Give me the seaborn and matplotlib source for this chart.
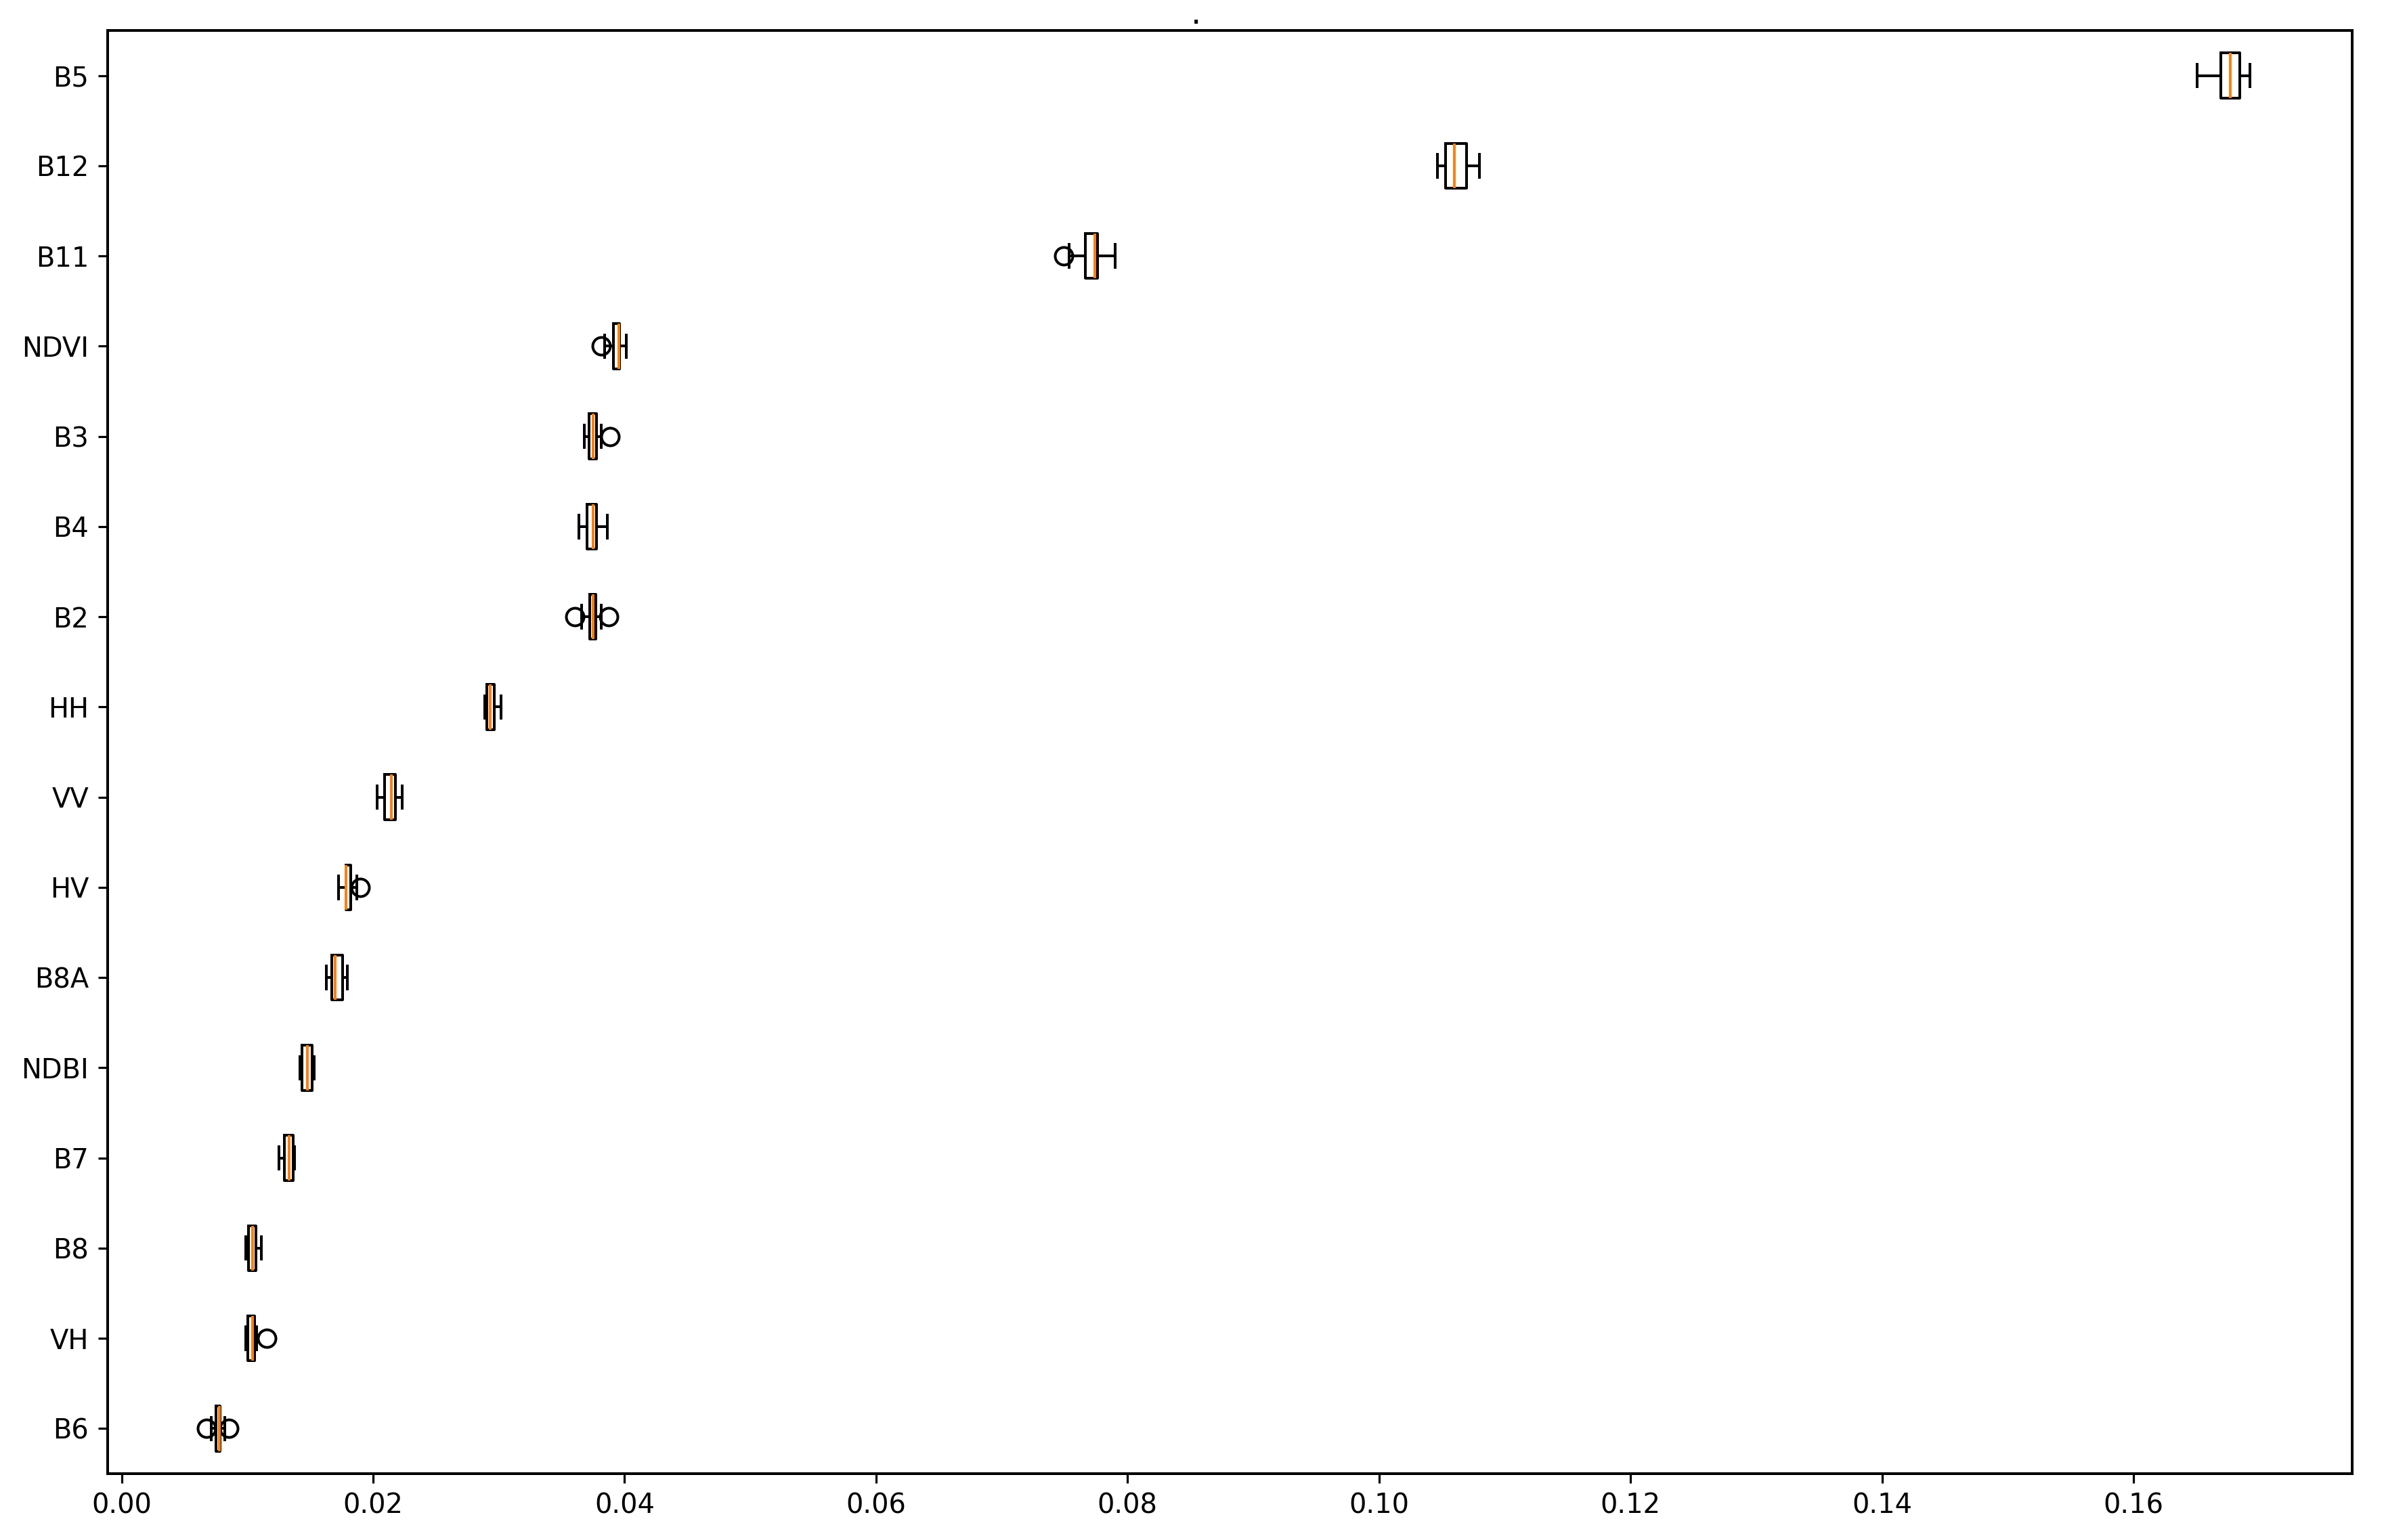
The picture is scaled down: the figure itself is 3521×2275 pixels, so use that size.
import matplotlib
matplotlib.use("Agg")

import pandas as pd
import matplotlib.pyplot as plt
import seaborn as sns

# orden de las variables (de mayor a menor importancia)
features = ["B5", "B12", "B11", "NDVI", "B3", "B4", "B2", "HH",
            "VV", "HV", "B8A", "NDBI", "B7", "B8", "VH", "B6"]

# importancia por permutacion, 10 repeticiones por variable
imp_B5 = [0.16506, 0.16610, 0.16690, 0.16710, 0.16766, 0.16774, 0.16830, 0.16850, 0.16880, 0.16926]
imp_B12 = [0.10466, 0.10500, 0.10525, 0.10545, 0.10595, 0.10605, 0.10682, 0.10702, 0.10740, 0.10800]
imp_B11 = [0.07494, 0.07537, 0.07661, 0.07681, 0.07738, 0.07746, 0.07748, 0.07768, 0.07820, 0.07900]
imp_NDVI = [0.03812, 0.03840, 0.03908, 0.03916, 0.03950, 0.03954, 0.03954, 0.03962, 0.03990, 0.04016]
imp_B3 = [0.03682, 0.03700, 0.03718, 0.03726, 0.03750, 0.03754, 0.03773, 0.03781, 0.03817, 0.03882]
imp_B4 = [0.03639, 0.03680, 0.03702, 0.03710, 0.03750, 0.03754, 0.03773, 0.03781, 0.03810, 0.03865]
imp_B2 = [0.03602, 0.03661, 0.03723, 0.03731, 0.03750, 0.03754, 0.03768, 0.03776, 0.03812, 0.03876]
imp_HH = [0.02886, 0.02894, 0.02900, 0.02908, 0.02932, 0.02936, 0.02960, 0.02968, 0.02990, 0.03015]
imp_VV = [0.02030, 0.02060, 0.02087, 0.02095, 0.02141, 0.02145, 0.02169, 0.02177, 0.02200, 0.02234]
imp_HV = [0.01723, 0.01750, 0.01781, 0.01785, 0.01786, 0.01788, 0.01816, 0.01824, 0.01870, 0.01900]
imp_B8A = [0.01631, 0.01650, 0.01672, 0.01680, 0.01699, 0.01703, 0.01749, 0.01757, 0.01775, 0.01793]
imp_NDBI = [0.01416, 0.01424, 0.01430, 0.01438, 0.01473, 0.01477, 0.01507, 0.01515, 0.01520, 0.01529]
imp_B7 = [0.01254, 0.01270, 0.01290, 0.01298, 0.01328, 0.01332, 0.01356, 0.01364, 0.01370, 0.01378]
imp_B8 = [0.00985, 0.00995, 0.01005, 0.01013, 0.01042, 0.01046, 0.01065, 0.01073, 0.01090, 0.01109]
imp_VH = [0.00985, 0.00992, 0.01000, 0.01008, 0.01042, 0.01046, 0.01052, 0.01060, 0.01075, 0.01155]
imp_B6 = [0.00678, 0.00712, 0.00751, 0.00759, 0.00773, 0.00777, 0.00777, 0.00785, 0.00820, 0.00855]

xticks = [0.00, 0.02, 0.04, 0.06, 0.08, 0.10, 0.12, 0.14, 0.16]

importancias = {
    "B5": imp_B5, "B12": imp_B12, "B11": imp_B11, "NDVI": imp_NDVI,
    "B3": imp_B3, "B4": imp_B4, "B2": imp_B2, "HH": imp_HH,
    "VV": imp_VV, "HV": imp_HV, "B8A": imp_B8A, "NDBI": imp_NDBI,
    "B7": imp_B7, "B8": imp_B8, "VH": imp_VH, "B6": imp_B6,
}

# formato largo para seaborn
filas = []
for nombre in features:
    for v in importancias[nombre]:
        filas.append({"feature": nombre, "importance": v})
df = pd.DataFrame(filas)

fig = plt.figure(figsize=(3521 / 288, 2275 / 288), dpi=288)
ax = fig.add_axes([0.0452, 0.0431, 0.9415, 0.9371])

sns.boxplot(
    data=df, x="importance", y="feature", order=features, orient="h",
    width=0.5, fill=False, color="black", linecolor="black", linewidth=1.0,
    whis=1.5, fliersize=6.5, ax=ax,
    medianprops=dict(color="#ff7f0e", linewidth=1.0),
    flierprops=dict(marker="o", markerfacecolor="none",
                    markeredgecolor="black", markeredgewidth=1.0),
)

ax.set_xlim(-0.0011, 0.1774)
ax.set_xticks(xticks)
ax.set_xticklabels([f"{t:.2f}" for t in xticks])
ax.set_xlabel("")
ax.set_ylabel("")
# titulo vacio (solo un punto), como en el original
ax.set_title(".", x=0.485, pad=2.5)
for s in ax.spines.values():
    s.set_color("black")
    s.set_linewidth(1.0)

fig.savefig("out.png", dpi=288)
plt.close(fig)
